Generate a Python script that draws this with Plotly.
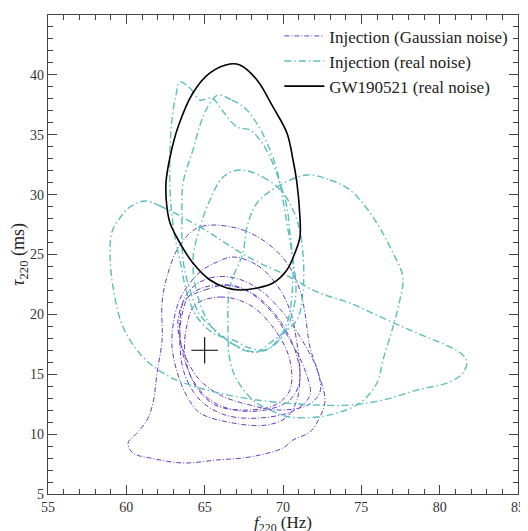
import plotly.graph_objects as go

# ---- data (f220 in Hz, tau220 in ms) ----
gw_f = [66.61, 67.25, 68.34, 69.36, 70.25, 70.64, 70.89, 71.08, 71.08, 70.76, 70.25, 69.36, 68.34, 67.25,
        66.42, 65.34, 64.25, 63.42, 62.79, 62.59, 62.53, 62.79, 63.30, 64.25, 65.34, 66.61]
gw_tau = [40.91, 40.82, 39.57, 37.32, 35.15, 32.89, 30.97, 28.13, 26.46, 25.13, 23.71, 22.62, 22.20, 22.04,
          22.20, 22.87, 24.29, 25.96, 27.63, 28.97, 30.97, 33.14, 35.65, 38.49, 40.16, 40.91]

real1_f = [63.42, 64.06, 64.70, 65.47, 66.10, 67.06, 67.89, 68.53, 69.17, 69.81, 70.25, 70.44, 70.64, 70.57,
           70.32, 69.68, 68.85, 67.89, 66.81, 65.53, 64.51, 63.87, 63.42, 63.10, 62.91, 62.79, 62.79, 62.91,
           63.17, 63.42]
real1_tau = [39.41, 38.90, 37.90, 38.07, 37.07, 35.65, 35.40, 34.56, 33.14, 30.97, 28.97, 26.80, 24.29, 21.62,
             19.53, 17.86, 17.03, 17.19, 17.86, 18.44, 19.78, 21.79, 24.54, 26.46, 28.30, 30.39, 33.73, 36.23,
             38.32, 39.41]

real2_f = [65.85, 66.74, 67.57, 68.40, 69.04, 69.61, 70.00, 70.32, 70.64, 70.83, 70.57, 70.00, 69.17, 68.21,
           66.93, 65.66, 64.70, 64.06, 63.62, 63.55, 63.62, 64.25, 64.89, 65.47, 65.85]
real2_tau = [38.32, 37.90, 37.23, 35.81, 34.14, 32.06, 29.55, 27.05, 24.54, 22.04, 19.95, 18.28, 17.19, 16.86,
             17.44, 18.70, 19.95, 22.04, 24.54, 28.13, 30.97, 33.73, 36.48, 37.90, 38.32]

real3_f = [67.25, 68.72, 70.00, 70.89, 71.27, 71.27, 70.89, 70.00, 69.17, 68.34, 67.44, 66.61, 65.78, 65.15,
           64.51, 64.25, 64.70, 65.34, 66.17, 67.25]
real3_tau = [32.06, 31.47, 30.14, 27.88, 25.13, 21.79, 19.53, 18.44, 17.61, 16.86, 17.03, 17.69, 18.44, 19.53,
             21.79, 24.54, 27.30, 29.55, 31.47, 32.06]

real4_f = [71.53, 73.00, 74.27, 75.74, 77.02, 77.65, 77.46, 77.02, 76.38, 76.00, 74.91, 73.44, 72.17, 70.44,
           69.17, 68.08, 67.06, 66.61, 66.49, 66.61, 67.44, 67.70, 68.34, 69.61, 71.53]
real4_tau = [31.64, 31.22, 30.39, 28.13, 25.13, 23.12, 21.20, 18.95, 16.19, 14.27, 12.60, 11.76, 11.43, 11.43,
             12.01, 12.85, 14.52, 16.19, 18.70, 22.29, 25.13, 27.30, 29.30, 30.64, 31.64]

real5_f = [61.19, 62.15, 64.70, 67.89, 70.44, 72.17, 74.27, 76.38, 78.55, 80.65, 81.48, 81.74, 81.48, 80.65,
           78.55, 76.38, 74.27, 72.17, 68.34, 65.15, 62.79, 61.06, 59.79, 59.15, 58.96, 59.08, 59.59, 60.23, 61.19]
real5_tau = [29.47, 29.05, 27.30, 24.71, 23.12, 21.87, 20.95, 19.70, 18.44, 17.28, 16.61, 16.02, 15.10, 14.35,
             13.68, 12.85, 12.43, 12.43, 12.85, 13.68, 14.77, 16.44, 18.95, 22.29, 25.13, 26.88, 28.05, 28.97, 29.47]

gauss1_f = [65.66, 67.44, 68.98, 70.25, 71.08, 71.40, 71.72, 72.23, 72.68, 72.36, 71.72, 70.64, 70.00, 67.89,
            65.78, 63.62, 61.51, 60.42, 60.11, 60.68, 61.32, 61.70, 61.96, 62.28, 62.28, 62.59, 63.23, 64.06,
            64.70, 65.66]
gauss1_tau = [27.46, 27.05, 25.96, 24.29, 22.04, 20.12, 17.28, 15.19, 12.85, 11.43, 10.18, 9.51, 8.84, 8.09,
              7.84, 7.59, 8.01, 8.42, 9.26, 10.09, 11.18, 12.60, 15.10, 17.86, 20.95, 23.12, 25.38, 26.80,
              27.30, 27.46]

gauss2_f = [66.81, 68.34, 69.61, 70.44, 70.89, 71.08, 70.89, 70.25, 68.98, 66.81, 64.70, 63.93, 63.30, 62.91,
            63.10, 63.55, 64.70, 65.78, 66.81]
gauss2_tau = [24.79, 24.12, 22.45, 20.37, 17.61, 14.94, 12.85, 11.43, 10.76, 10.93, 11.76, 13.02, 14.94, 17.44,
              19.95, 21.62, 23.54, 24.37, 24.79]

gauss3_f = [64.06, 65.34, 66.93, 68.53, 70.12, 71.40, 72.23, 72.36, 71.59, 69.81, 67.89, 65.98, 64.57, 63.62,
            63.30, 64.06]
gauss3_tau = [22.04, 23.04, 23.04, 22.04, 19.95, 17.44, 15.19, 13.52, 12.43, 12.01, 12.43, 13.27, 14.69, 17.03,
              19.53, 22.04]

gauss4_f = [63.74, 65.02, 66.61, 68.21, 69.68, 70.76, 71.08, 70.44, 68.85, 66.93, 65.34, 64.25, 63.55, 63.42, 63.74]
gauss4_tau = [21.20, 22.04, 22.45, 21.62, 19.70, 17.03, 14.52, 12.85, 12.01, 12.01, 12.85, 14.52, 17.03, 19.53, 21.20]

gauss5_f = [64.38, 65.98, 67.89, 69.49, 70.44, 70.44, 69.49, 67.57, 65.66, 64.38, 63.74, 63.87, 64.38]
gauss5_tau = [20.78, 21.45, 20.78, 18.70, 16.19, 13.68, 12.43, 12.01, 12.43, 14.10, 16.61, 19.11, 20.78]

gauss6_f = [64.06, 65.66, 67.57, 69.17, 70.44, 71.40, 71.72, 70.76, 68.53, 66.30, 64.70, 63.74, 63.42, 63.55, 64.06]
gauss6_tau = [21.62, 22.45, 22.04, 20.37, 17.86, 15.35, 13.27, 12.01, 11.35, 11.60, 12.85, 14.94, 17.44, 19.95, 21.62]

true_f = [65.0]
true_tau = [17.0]

x_range = [55, 85]
y_range = [5, 45]
x_ticks = [55, 60, 65, 70, 75, 80, 85]
y_ticks = [5, 10, 15, 20, 25, 30, 35, 40, 45]

PURPLE = "#5f3fc4"
TEAL = "#5ebdbf"
FONT = "Liberation Serif"

fig = go.Figure()

gauss = [(gauss1_f, gauss1_tau), (gauss2_f, gauss2_tau), (gauss3_f, gauss3_tau),
         (gauss4_f, gauss4_tau), (gauss5_f, gauss5_tau), (gauss6_f, gauss6_tau)]
real = [(real1_f, real1_tau), (real2_f, real2_tau), (real3_f, real3_tau),
        (real4_f, real4_tau), (real5_f, real5_tau)]

for i, (fx, ty) in enumerate(gauss):
    fig.add_trace(go.Scatter(x=fx, y=ty, mode="lines", line=dict(color=PURPLE, width=1, dash="5px,2px,1px,2px",
                                                                  shape="spline", smoothing=1.0),
                             name="Injection (Gaussian noise)", legendgroup="g", showlegend=(i == 0),
                             hoverinfo="skip"))
for i, (fx, ty) in enumerate(real):
    fig.add_trace(go.Scatter(x=fx, y=ty, mode="lines", line=dict(color=TEAL, width=1.4, dash="7px,3px,1.5px,3px",
                                                                  shape="spline", smoothing=1.0),
                             name="Injection (real noise)", legendgroup="r", showlegend=(i == 0),
                             hoverinfo="skip"))

fig.add_trace(go.Scatter(x=gw_f, y=gw_tau, mode="lines",
                         line=dict(color="black", width=1.6, shape="spline", smoothing=1.0),
                         name="GW190521 (real noise)", hoverinfo="skip"))

fig.add_trace(go.Scatter(x=true_f, y=true_tau, mode="markers",
                         marker=dict(symbol="cross-thin", size=19, line=dict(color="black", width=1.1)),
                         showlegend=False, hoverinfo="skip"))

axis_common = dict(
    showgrid=False, zeroline=False, showline=True, linecolor="#444", linewidth=1.2, mirror="ticks",
    ticks="inside", ticklen=9, tickwidth=1, tickcolor="#444",
    minor=dict(ticks="inside", ticklen=5, tickwidth=0.8, tickcolor="#444", dtick=1),
    tickfont=dict(family=FONT, size=14, color="#333"),
    automargin=False,
)

fig.update_xaxes(range=x_range, tickvals=x_ticks, ticktext=[str(v) for v in x_ticks], **axis_common)
fig.update_yaxes(range=y_range, tickvals=y_ticks, ticktext=[str(v) for v in y_ticks],
                 title=dict(text="<i>τ</i><sub>220</sub> (ms)", font=dict(family=FONT, size=18, color="#222"),
                            standoff=4),
                 **axis_common)

fig.add_annotation(text="<i>f</i><sub>220</sub> (Hz)", xref="paper", yref="paper", x=0.5, y=0,
                   xanchor="center", yanchor="top", yshift=-17, showarrow=False,
                   font=dict(family=FONT, size=17, color="#222"))

# page body adds an 8px margin, so the figure is sized to fit the window
fig.update_layout(
    width=520, height=523,
    margin=dict(l=40, r=10, t=7, b=37),
    plot_bgcolor="white", paper_bgcolor="white",
    font=dict(family=FONT, size=15, color="#222"),
    legend=dict(x=0.99, y=0.993, xanchor="right", yanchor="top", bgcolor="rgba(255,255,255,0)",
                font=dict(family=FONT, size=17, color="#222"), itemwidth=40, tracegroupgap=0),
)

fig.write_html("out.html")
